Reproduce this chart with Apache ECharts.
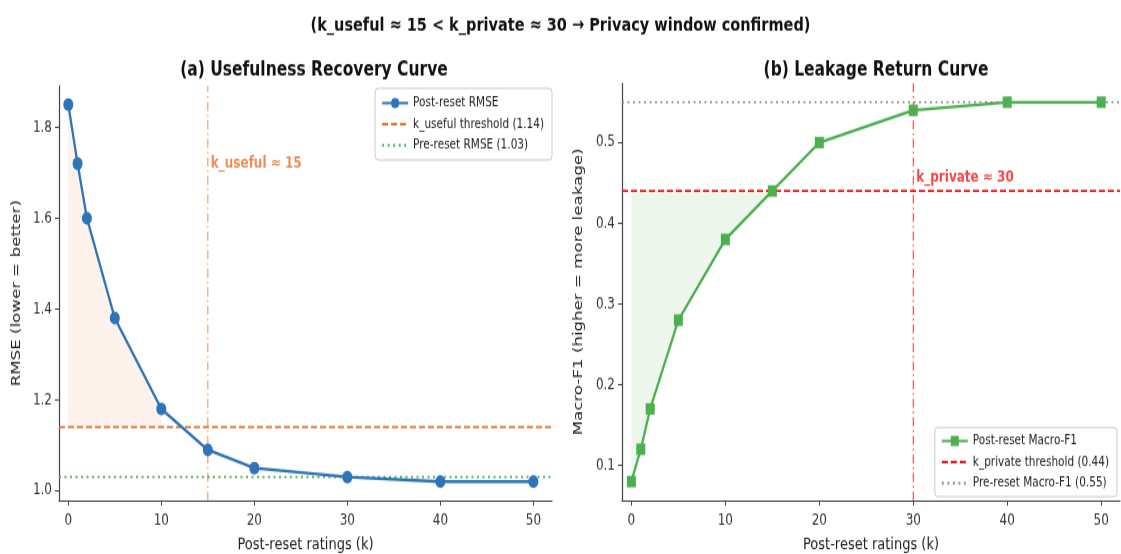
<!DOCTYPE html>
<html>
<head>
<meta charset="UTF-8">
<title>Recovery curves</title>
<script src="https://cdn.jsdelivr.net/npm/echarts@6/dist/echarts.min.js"></script>
</head>
<body style="margin:0;background:#fff;">
<!-- the reference is stretched vertically, so draw shorter and scale up in y -->
<div id="wrap" style="width:1121px;height:554px;position:relative;overflow:hidden;background:#fff;">
  <div id="chart" style="position:absolute;left:0;top:0;width:1121px;height:433px;transform:scaleY(1.28);transform-origin:0 0;"></div>
</div>
<script type="text/javascript">
var kValues = [0, 1, 2, 5, 10, 15, 20, 30, 40, 50];
var rmse = [1.85, 1.72, 1.60, 1.38, 1.18, 1.09, 1.05, 1.03, 1.02, 1.02];
var macroF1 = [0.08, 0.12, 0.17, 0.28, 0.38, 0.44, 0.50, 0.54, 0.55, 0.55];
var kUsefulThr = 1.14, preRmse = 1.03, kUseful = 15;
var kPrivateThr = 0.44, preF1 = 0.55, kPrivate = 30;
var xTicks = [0, 10, 20, 30, 40, 50];
var rmseTicks = [1.0, 1.2, 1.4, 1.6, 1.8];
var f1Ticks = [0.1, 0.2, 0.3, 0.4, 0.5];

var font = 'DejaVu Sans';
var xMin = -1, xMax = 52;
var y1Min = 0.9785, y1Max = 1.8915;
var y2Min = 0.0565, y2Max = 0.5735;

function pairs(xs, ys) {
  return xs.map(function (x, i) { return [x, ys[i]]; });
}

// fill between curve and threshold (like fill_between with where)
function fillSeries(idx, pts, thr, color) {
  return {
    type: 'custom', xAxisIndex: idx, yAxisIndex: idx, z: 1, silent: true,
    data: [[pts[0][0], thr]],
    renderItem: function (params, api) {
      var poly = pts.map(function (p) { return api.coord(p); });
      poly.push(api.coord([pts[pts.length - 1][0], thr]));
      poly.push(api.coord([pts[0][0], thr]));
      return { type: 'polygon', shape: { points: poly }, style: { fill: color } };
    }
  };
}

var rmsePts = pairs(kValues, rmse).filter(function (p) { return p[1] > kUsefulThr; });
var f1Pts = pairs(kValues, macroF1).filter(function (p) { return p[1] <= kPrivateThr; });

function xAxisFor(idx) {
  return {
    type: 'value', gridIndex: idx, min: xMin, max: xMax,
    name: 'Post-reset ratings (k)', nameLocation: 'middle', nameGap: 28,
    nameTextStyle: { fontFamily: font, fontSize: 13, color: '#222' },
    axisLine: { onZero: false, lineStyle: { color: '#444', width: 1.2 } },
    axisTick: { customValues: xTicks, length: 4, lineStyle: { color: '#444' } },
    axisLabel: { customValues: xTicks, fontFamily: font, fontSize: 12, color: '#333', margin: 10 },
    splitLine: { show: false }
  };
}
function yAxisFor(idx, mn, mx, ticks, name) {
  return {
    type: 'value', gridIndex: idx, min: mn, max: mx,
    name: name, nameLocation: 'middle', nameGap: idx === 0 ? 36 : 37, nameRotate: 90,
    nameTextStyle: { fontFamily: font, fontSize: 13, color: '#222' },
    axisLine: { show: true, onZero: false, lineStyle: { color: '#444', width: 1.2 } },
    axisTick: { show: true, customValues: ticks, length: 4, lineStyle: { color: '#444' } },
    axisLabel: {
      customValues: ticks, fontFamily: font, fontSize: 12, color: '#333', margin: 7,
      formatter: function (v) { return v.toFixed(1); }
    },
    splitLine: { show: false }
  };
}

function hLine(idx, name, y, color, type, width) {
  return {
    name: name, type: 'line', xAxisIndex: idx, yAxisIndex: idx, z: 2,
    data: [[xMin, y], [xMax, y]], symbol: 'none', silent: true,
    lineStyle: { color: color, type: type, width: width }, itemStyle: { color: color }
  };
}
function vLine(idx, x, y0, y1, color) {
  return {
    type: 'line', xAxisIndex: idx, yAxisIndex: idx, z: 2,
    data: [[x, y0], [x, y1]], symbol: 'none', silent: true,
    lineStyle: { color: color, type: [7, 3, 1.5, 3], width: 1.1 }
  };
}
function note(idx, x, y, text, color) {
  return {
    type: 'scatter', xAxisIndex: idx, yAxisIndex: idx, z: 5, silent: true,
    symbolSize: 0, data: [[x, y]],
    label: {
      show: true, position: 'right', distance: 3, formatter: text,
      fontFamily: font, fontSize: 12, fontWeight: 'bold', color: color
    }
  };
}
// legend entry showing the line only
function lineOnly(name) {
  return { name: name, itemStyle: { opacity: 0 } };
}

var legendBase = {
  orient: 'vertical', itemWidth: 26, itemHeight: 10, itemGap: 5.5,
  padding: [6, 8, 6, 6],
  backgroundColor: '#fff', borderColor: '#ccc', borderWidth: 1, borderRadius: 3,
  textStyle: { fontFamily: font, fontSize: 10.5, lineHeight: 10, color: '#222' }
};

var chart = echarts.init(document.getElementById('chart'));
var option = {
  animation: false,
  backgroundColor: '#fff',
  title: [
    { text: '(k_useful \u2248 15 < k_private \u2248 30 \u2192 Privacy window confirmed)', left: 'center', top: 7.5,
      textStyle: { fontFamily: font, fontSize: 14.5, fontWeight: 'bold', color: '#111' } },
    { text: '(a) Usefulness Recovery Curve', left: 309, textAlign: 'center', top: 41.5,
      textStyle: { fontFamily: font, fontSize: 15.5, fontWeight: 'bold', color: '#111' } },
    { text: '(b) Leakage Return Curve', left: 871, textAlign: 'center', top: 41.5,
      textStyle: { fontFamily: font, fontSize: 15.5, fontWeight: 'bold', color: '#111' } }
  ],
  legend: [
    Object.assign({}, legendBase, {
      right: 569, top: 69,
      data: ['Post-reset RMSE', lineOnly('k_useful threshold (1.14)'), lineOnly('Pre-reset RMSE (1.03)')]
    }),
    Object.assign({}, legendBase, {
      right: 4, top: 334,
      padding: [5, 8, 5, 6],
      data: ['Post-reset Macro-F1', lineOnly('k_private threshold (0.44)'), lineOnly('Pre-reset Macro-F1 (0.55)')]
    })
  ],
  grid: [
    { left: 59, right: 569, top: 67, bottom: 42, outerBoundsMode: 'none' },
    { left: 622, right: 1, top: 65, bottom: 42, outerBoundsMode: 'none' }
  ],
  xAxis: [xAxisFor(0), xAxisFor(1)],
  yAxis: [
    yAxisFor(0, y1Min, y1Max, rmseTicks, 'RMSE (lower = better)'),
    yAxisFor(1, y2Min, y2Max, f1Ticks, 'Macro-F1 (higher = more leakage)')
  ],
  series: [
    fillSeries(0, rmsePts, kUsefulThr, 'rgba(237,125,49,0.09)'),
    fillSeries(1, f1Pts, kPrivateThr, 'rgba(76,175,80,0.10)'),
    vLine(0, kUseful, y1Min, y1Max, 'rgba(237,125,49,0.8)'),
    vLine(1, kPrivate, y2Min, y2Max, 'rgba(240,0,0,0.75)'),
    hLine(0, 'k_useful threshold (1.14)', kUsefulThr, '#e8702a', [6, 3], 1.8),
    hLine(0, 'Pre-reset RMSE (1.03)', preRmse, '#3cb44b', [2, 3.5], 1.8),
    hLine(1, 'k_private threshold (0.44)', kPrivateThr, '#f01818', [6, 3], 1.8),
    hLine(1, 'Pre-reset Macro-F1 (0.55)', preF1, '#888888', [2, 3.5], 1.4),
    {
      name: 'Post-reset RMSE', type: 'line', xAxisIndex: 0, yAxisIndex: 0, z: 4,
      data: pairs(kValues, rmse), symbol: 'circle', symbolSize: 10,
      lineStyle: { color: '#2f74b8', width: 2.3 }, itemStyle: { color: '#2f74b8' }
    },
    {
      name: 'Post-reset Macro-F1', type: 'line', xAxisIndex: 1, yAxisIndex: 1, z: 4,
      data: pairs(kValues, macroF1), symbol: 'rect', symbolSize: 9,
      lineStyle: { color: '#4caf50', width: 2.3 }, itemStyle: { color: '#4caf50' }
    },
    note(0, kUseful, 1.72, 'k_useful \u2248 15', '#e8702a'),
    note(1, kPrivate, 0.456, 'k_private \u2248 30', '#f01818')
  ]
};
chart.setOption(option);
</script>
</body>
</html>
